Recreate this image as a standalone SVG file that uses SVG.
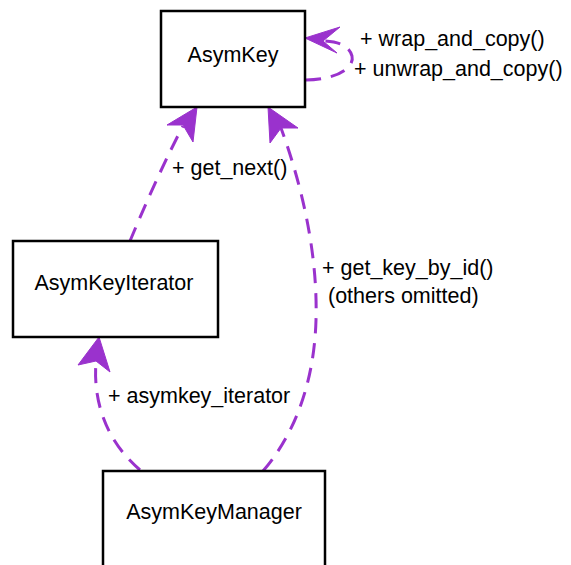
<svg xmlns="http://www.w3.org/2000/svg" width="571" height="565" viewBox="0 0 571 565">
<style>
.box{fill:#fff;stroke:#000;stroke-width:2.5}
.t{font-family:"Liberation Sans",Arial,sans-serif;font-size:21.5px;fill:#000}
.e{fill:none;stroke:#9a32cd;stroke-width:3;stroke-dasharray:15,10}
.ah{fill:#9a32cd;stroke:#9a32cd;stroke-width:1}
</style>
<rect width="571" height="565" fill="#fff"/>
<g id="edges">
  <path class="e" d="M306,80 C335,80 355,68 352,56 C349,46 340,42 324,41"/>
  <polygon class="ah" points="305,38 340,27 323,41 337,53"/>
  <path class="e" d="M130,241 C145,205 165,160 183,126"/>
  <polygon class="ah" points="197,107 193,142 183,125 167,125"/>
  <path class="e" d="M263,471 C290,440 314,390 316,320 C318,250 300,180 281,128"/>
  <polygon class="ah" points="268,107 298,128 281,128 270,143"/>
  <path class="e" d="M140,470 C105,440 93,400 96,362"/>
  <polygon class="ah" points="99,337 110,372 96,361 78,365"/>
  <text class="t" x="360" y="46">+ wrap_and_copy()</text>
  <text class="t" x="354" y="76">+ unwrap_and_copy()</text>
  <text class="t" x="172" y="175">+ get_next()</text>
  <text class="t" x="322" y="275">+ get_key_by_id()</text>
  <text class="t" x="328" y="303">(others omitted)</text>
  <text class="t" x="108" y="403">+ asymkey_iterator</text>
</g>
<g id="AsymKey">
  <rect class="box" x="161" y="11" width="144" height="96"/>
  <text class="t" x="233" y="62" text-anchor="middle">AsymKey</text>
</g>
<g id="AsymKeyIterator">
  <rect class="box" x="13" y="241" width="205" height="96"/>
  <text class="t" x="114" y="290" text-anchor="middle">AsymKeyIterator</text>
</g>
<g id="AsymKeyManager">
  <rect class="box" x="103" y="471" width="222" height="100"/>
  <text class="t" x="214" y="519" text-anchor="middle">AsymKeyManager</text>
</g>
</svg>
